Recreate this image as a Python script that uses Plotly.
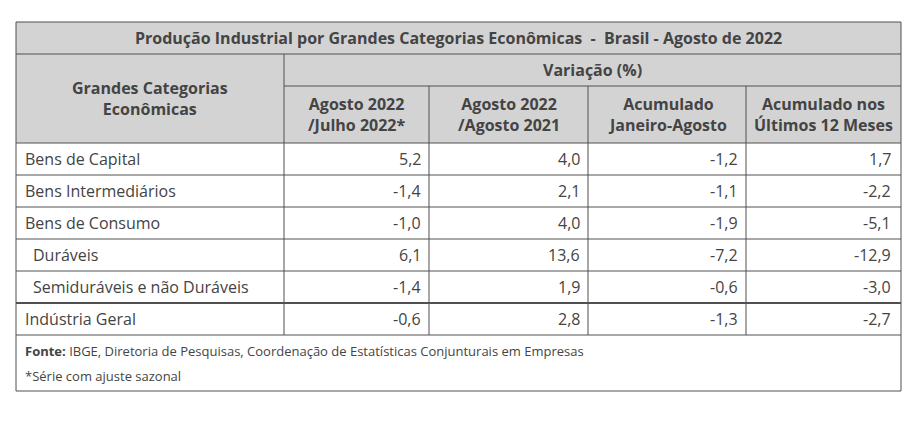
import plotly.graph_objects as go

# ---- data ----
title = "Produção Industrial por Grandes Categorias Econômicas  -  Brasil - Agosto de 2022"
row_header = "Grandes Categorias<br>Econômicas"
group_header = "Variação (%)"
col_headers = ["Agosto 2022<br>/Julho 2022*", "Agosto 2022<br>/Agosto 2021",
               "Acumulado<br>Janeiro-Agosto", "Acumulado nos<br>Últimos 12 Meses"]
categories = ["Bens de Capital", "Bens Intermediários", "Bens de Consumo",
              "Duráveis", "Semiduráveis e não Duráveis", "Indústria Geral"]
ago22_jul22 = [5.2, -1.4, -1.0, 6.1, -1.4, -0.6]
ago22_ago21 = [4.0, 2.1, 4.0, 13.6, 1.9, 2.8]
acum_jan_ago = [-1.2, -1.1, -1.9, -7.2, -0.6, -1.3]
acum_12m = [1.7, -2.2, -5.1, -12.9, -3.0, -2.7]
footnote_source = "<b>Fonte:</b> IBGE, Diretoria de Pesquisas, Coordenação de Estatísticas Conjunturais em Empresas"
footnote_series = "*Série com ajuste sazonal"

# ---- layout / style ----
W, H = 919, 421
OFF = 8  # page body margin
col_x = [16, 284, 429, 588, 746, 901]
y_top, y_title, y_grp, y_head = 22, 54, 86, 143
row_h = 32
y_foot_bottom = 391
indent = [0, 0, 0, 8, 8, 0]
grey = "#d3d3d3"
line_c = "#505050"
txt_c = "#444444"
FONT = "Open Sans"

columns = [ago22_jul22, ago22_ago21, acum_jan_ago, acum_12m]
fmt = lambda v: f"{v:.1f}".replace(".", ",")

shapes = []
ann = []

def rect(x0, y0, x1, y1, fill):
    shapes.append(dict(type="rect", xref="x", yref="y", x0=x0, y0=y0, x1=x1, y1=y1,
                       fillcolor=fill, line=dict(width=0), layer="below"))

def line(x0, y0, x1, y1, w=1):
    shapes.append(dict(type="line", xref="x", yref="y", x0=x0, y0=y0, x1=x1, y1=y1,
                       line=dict(color=line_c, width=w)))

def text(x, y, s, anchor="left", size=16, bold=False, color=txt_c):
    ann.append(dict(x=x, y=y, xref="x", yref="y", text=s, showarrow=False,
                    xanchor=anchor, yanchor="middle", align="center",
                    font=dict(family=FONT, size=size, color=color,
                              weight=700 if bold else 400)))

n = len(categories)
y_data_bottom = y_head + n * row_h

# header background
rect(col_x[0], y_top, col_x[-1], y_head, grey)

# outer border
line(col_x[0], y_top, col_x[-1], y_top)
line(col_x[0], y_top, col_x[0], y_foot_bottom)
line(col_x[-1], y_top, col_x[-1], y_foot_bottom)
line(col_x[0], y_foot_bottom, col_x[-1], y_foot_bottom)

# header lines
line(col_x[0], y_title, col_x[-1], y_title)
line(col_x[1], y_grp, col_x[-1], y_grp)
line(col_x[0], y_head, col_x[-1], y_head)
line(col_x[1], y_title, col_x[1], y_data_bottom)
for cx in col_x[2:-1]:
    line(cx, y_grp, cx, y_data_bottom)

# header texts
text((col_x[0] + col_x[-1]) / 2, (y_top + y_title) / 2, title, "center", 16, True)
text((col_x[0] + col_x[1]) / 2, (y_title + y_head) / 2, row_header, "center", 16, True)
text((col_x[1] + col_x[-1]) / 2, (y_title + y_grp) / 2, group_header, "center", 16, True)
for j, h in enumerate(col_headers):
    text((col_x[j + 1] + col_x[j + 2]) / 2, (y_grp + y_head) / 2, h, "center", 16, True)

# data rows
for i, cat in enumerate(categories):
    y0 = y_head + i * row_h
    y1 = y0 + row_h
    w = 2 if i == n - 2 else 1
    line(col_x[0], y1, col_x[-1], y1, w)
    text(col_x[0] + 7 + indent[i], (y0 + y1) / 2, cat, "left", 16)
    for j, col in enumerate(columns):
        pad = 8 if j == len(columns) - 1 else 6
        text(col_x[j + 2] - pad, (y0 + y1) / 2, fmt(col[i]), "right", 16)

# footer
text(col_x[0] + 7, y_data_bottom + 16, footnote_source, "left", 13)
text(col_x[0] + 7, y_data_bottom + 41, footnote_series, "left", 13)

fig = go.Figure()
fig.update_layout(
    width=W, height=H, margin=dict(l=0, r=0, t=0, b=0),
    paper_bgcolor="white", plot_bgcolor="white",
    xaxis=dict(range=[OFF, W + OFF], visible=False, fixedrange=True),
    yaxis=dict(range=[H + OFF, OFF], visible=False, fixedrange=True),
    shapes=shapes, annotations=ann, showlegend=False,
)
fig.write_html("out.html")
